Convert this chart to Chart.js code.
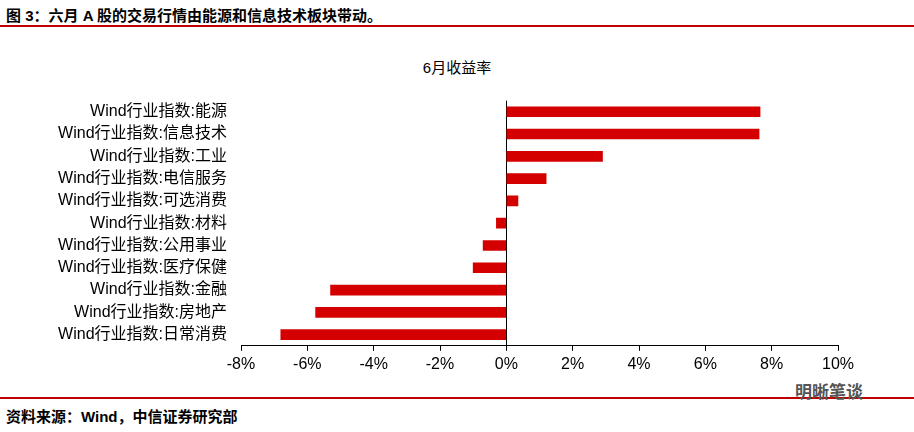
<!DOCTYPE html>
<html><head><meta charset="utf-8">
<script src="https://cdn.jsdelivr.net/npm/chart.js"></script>
<style>
body{margin:0;width:914px;height:432px;background:#fff;font-family:"Liberation Sans","Noto Sans CJK SC",sans-serif;position:relative;overflow:hidden}
#h{position:absolute;left:6px;top:4px;font-size:15px;font-weight:bold;color:#000}
#l1{position:absolute;left:0;top:25px;width:914px;height:2px;background:#c00000}
#t{position:absolute;left:0;width:914px;top:56px;text-align:center;font-size:15px}
#l2{position:absolute;left:0;top:397px;width:914px;height:2px;background:#c00000}
#s{position:absolute;left:6px;top:405px;font-size:15px;font-weight:bold}
#w{position:absolute;left:795px;top:378px;font-size:17px;font-weight:bold;color:#555}
#c{position:absolute;left:0;top:85px}
</style></head><body>
<div id="h">图 3：六月 A 股的交易行情由能源和信息技术板块带动。</div>
<div id="l1"></div>
<div id="t">6月收益率</div>
<div id="c"><canvas id="cv" width="914" height="293" style="width:914px;height:293px"></canvas></div>
<div id="l2"></div>
<div id="s">资料来源：Wind，中信证券研究部</div>
<div id="w">明晰笔谈</div>
<script>
const categories=["Wind行业指数:能源","Wind行业指数:信息技术","Wind行业指数:工业","Wind行业指数:电信服务","Wind行业指数:可选消费","Wind行业指数:材料","Wind行业指数:公用事业","Wind行业指数:医疗保健","Wind行业指数:金融","Wind行业指数:房地产","Wind行业指数:日常消费"];
const values=[7.65,7.62,2.9,1.2,0.35,-0.3,-0.7,-1.0,-5.3,-5.75,-6.8];
const xTicks=[-8,-6,-4,-2,0,2,4,6,8,10];
const F='"Liberation Sans","Noto Sans CJK SC"';
new Chart(document.getElementById('cv'),{type:'bar',
data:{labels:categories,datasets:[{data:values,backgroundColor:'#d40000',barThickness:10}]},
options:{indexAxis:'y',responsive:false,animation:false,
layout:{padding:{left:0,right:76,top:0,bottom:0}},
plugins:{legend:{display:false},tooltip:{enabled:false}},
scales:{
x:{min:-8,max:10,afterBuildTicks:a=>{a.ticks=xTicks.map(v=>({value:v}))},
 ticks:{callback:v=>v+'%',color:'#000',font:{size:16,family:F},padding:4},
 border:{color:'#000'},
 grid:{color:c=>c.tick&&c.tick.value===0?'#000':'rgba(0,0,0,0)',tickColor:'#000',tickLength:5,drawOnChartArea:true}},
y:{afterFit:a=>{a.width=241},ticks:{autoSkip:false,color:'#000',font:{size:16,family:F},padding:6},
 border:{display:false},grid:{display:false}}
}}});
</script></body></html>
